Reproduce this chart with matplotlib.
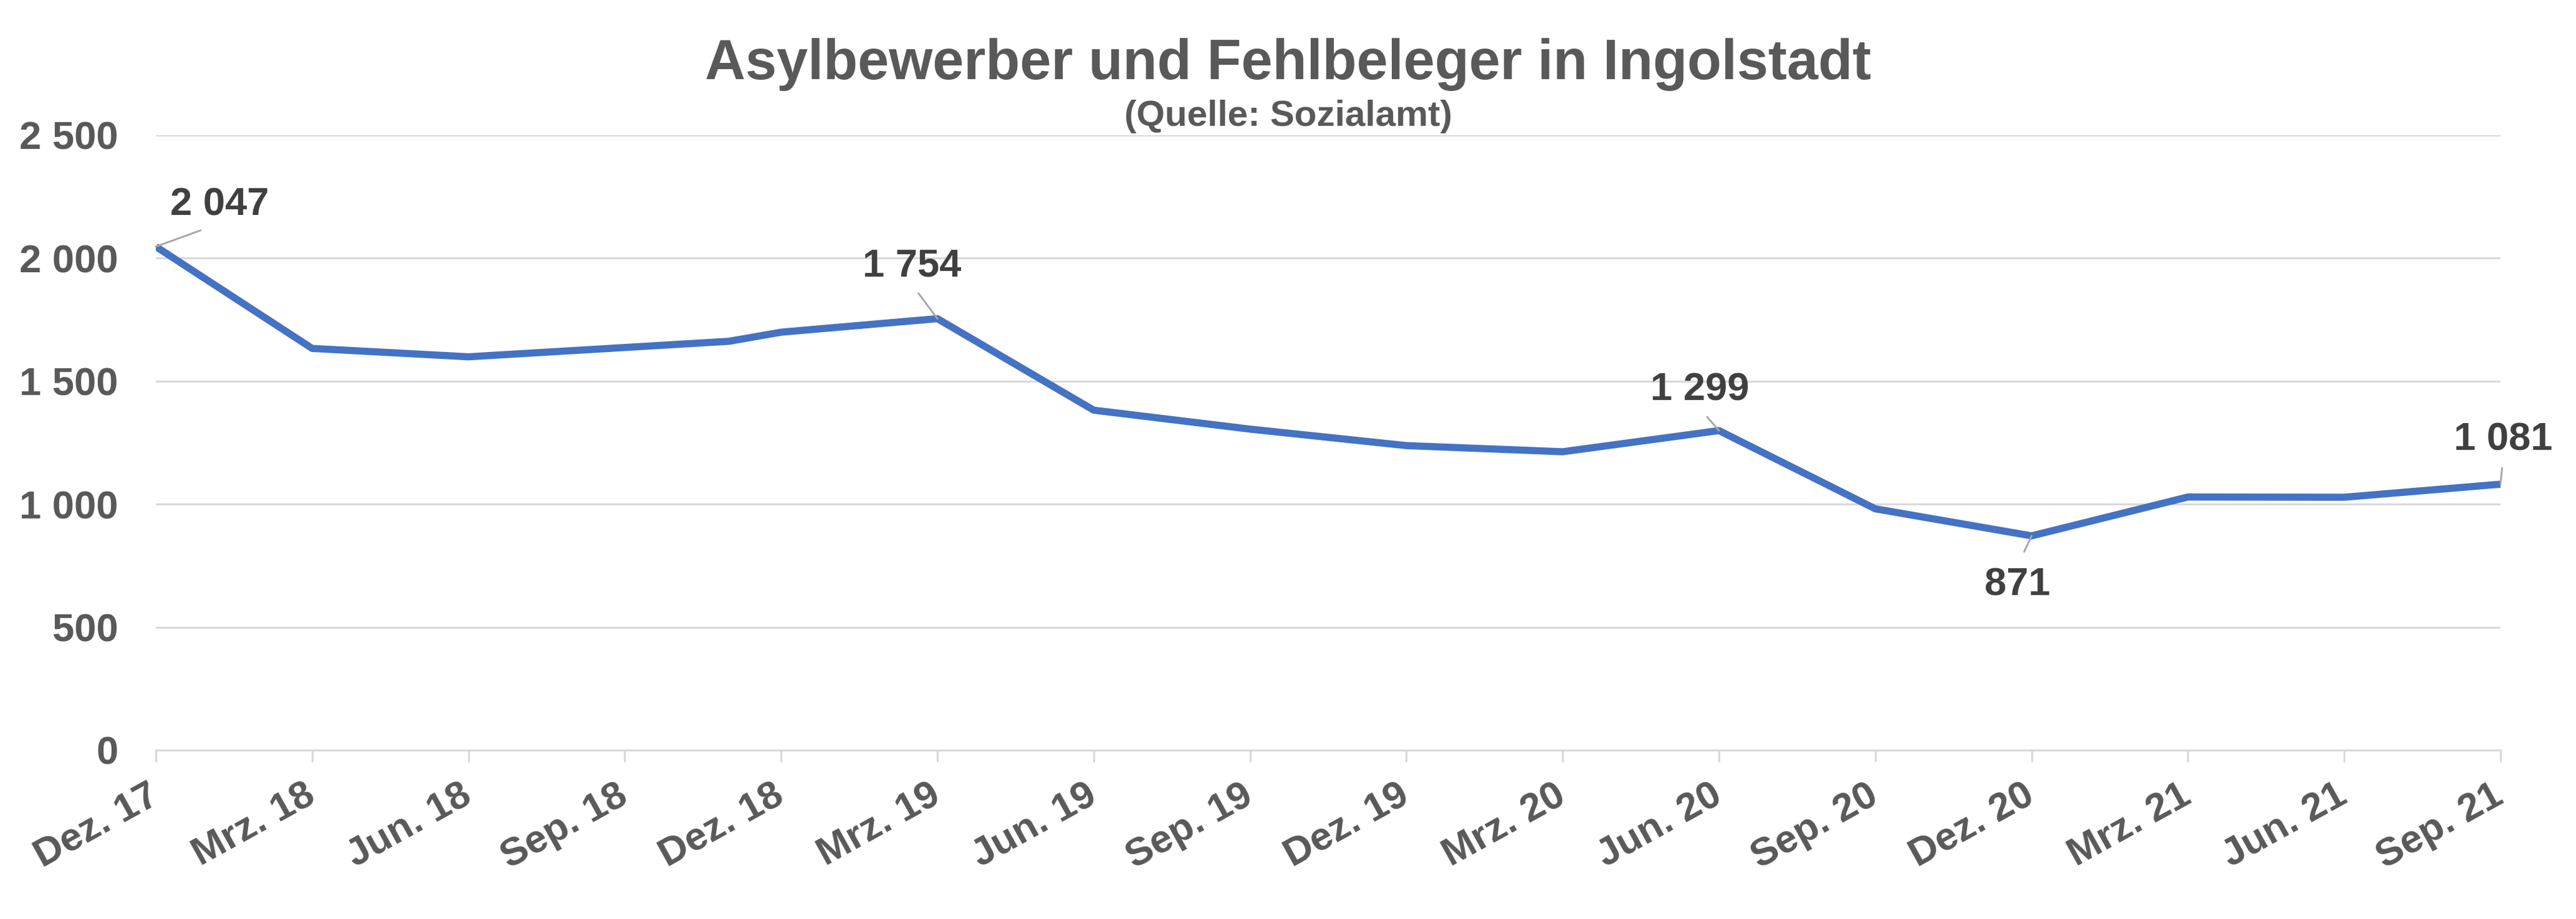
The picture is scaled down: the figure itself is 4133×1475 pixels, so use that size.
import matplotlib
matplotlib.use("Agg")
import matplotlib.pyplot as plt
from matplotlib.ticker import FuncFormatter

# Stichtage (Jahr, Monat) und Anzahl Personen
dates = [(2017, 12), (2018, 3), (2018, 6), (2018, 11), (2018, 12), (2019, 3),
         (2019, 6), (2019, 9), (2019, 12), (2020, 3), (2020, 6), (2020, 9),
         (2020, 12), (2021, 3), (2021, 6), (2021, 9)]
values = [2047, 1633, 1599, 1662, 1699, 1754, 1382, 1305, 1238, 1213, 1299,
          981, 871, 1029, 1028, 1081]

tick_labels = ["Dez. 17", "Mrz. 18", "Jun. 18", "Sep. 18", "Dez. 18",
               "Mrz. 19", "Jun. 19", "Sep. 19", "Dez. 19", "Mrz. 20",
               "Jun. 20", "Sep. 20", "Dez. 20", "Mrz. 21", "Jun. 21",
               "Sep. 21"]

# which points get a data label, and where its baseline sits (pixels)
label_offsets = {0: (102, 50), 5: (-41, 68), 10: (-31, 49), 12: (-23, -95),
                 15: (4, 55)}

plt.rcParams["font.family"] = ["Liberation Sans", "DejaVu Sans"]
plt.rcParams["font.weight"] = "bold"

# month index from first date
y0, m0 = dates[0]
x = [(y - y0) * 12 + (m - m0) for y, m in dates]

fig = plt.figure(figsize=(4133 / 300, 1475 / 300), dpi=300)
ax = fig.add_axes([0.0605, 0.1838, 0.9102, 0.6691])

ax.plot(x, values, color="#4472C4", lw=2.75, solid_joinstyle="round",
        solid_capstyle="butt", zorder=3)

for i, (dx, dy) in label_offsets.items():
    above = dy > 0
    ax.annotate("{:,}".format(values[i]).replace(",", " "),
                xy=(x[i], values[i]), xytext=(dx, dy),
                textcoords="offset pixels", ha="center", va="baseline",
                fontsize=15.2, fontweight="bold", color="#404040",
                arrowprops=dict(arrowstyle="-", color="#A6A6A6", lw=0.7,
                                relpos=(0.5, 0.0) if above else (0.5, 1.0),
                                shrinkA=1.8 if above else 4, shrinkB=0),
                zorder=4)

ax.set_xlim(0, 45)
ax.set_ylim(0, 2500)
ax.set_yticks(range(0, 2501, 500))
ax.yaxis.set_major_formatter(FuncFormatter(lambda v, p: "{:,}".format(int(v)).replace(",", " ")))
ax.set_xticks(range(0, 46, 3))
ax.set_xticklabels(tick_labels, rotation=29, ha="right", va="center",
                   rotation_mode="anchor")

ax.grid(axis="y", color="#D9D9D9", lw=0.75, zorder=0)
for s in ["top", "right", "left"]:
    ax.spines[s].set_visible(False)
ax.spines["bottom"].set_color("#D9D9D9")
ax.spines["bottom"].set_linewidth(0.75)

ax.tick_params(axis="x", colors="#595959", labelsize=15.2, length=4.5,
               width=0.75, color="#D9D9D9", pad=12)
ax.tick_params(axis="y", colors="#595959", labelsize=15.2, length=0, pad=14.5)
for lab in ax.get_xticklabels() + ax.get_yticklabels():
    lab.set_fontweight("bold")

fig.text(0.5, 0.9139, "Asylbewerber und Fehlbeleger in Ingolstadt",
         ha="center", va="baseline", fontsize=21.6, fontweight="bold",
         color="#595959")
fig.text(0.5, 0.863, "(Quelle: Sozialamt)", ha="center", va="baseline",
         fontsize=14.0, fontweight="bold", color="#595959")

fig.savefig("out.png", dpi=300, facecolor="white")
